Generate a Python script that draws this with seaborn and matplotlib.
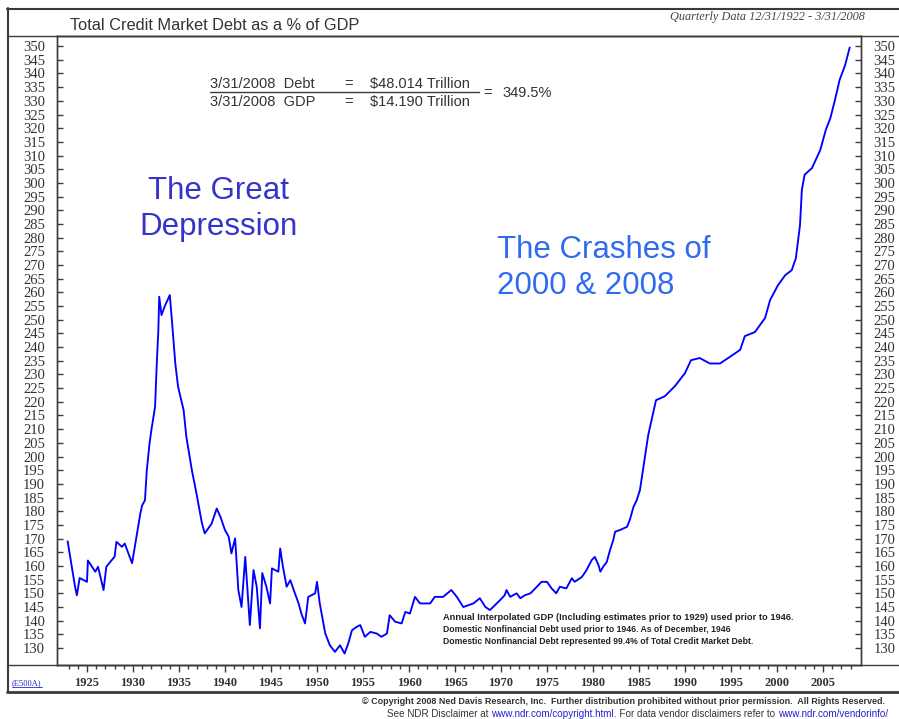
import numpy as np
import pandas as pd
import matplotlib
matplotlib.use("Agg")
import matplotlib.pyplot as plt
import seaborn as sns
from matplotlib.lines import Line2D

# ---------------- data ----------------
years = [1922.9, 1923.7, 1923.9, 1924.2, 1925.0, 1925.1, 1925.9, 1926.2, 1926.8, 1927.1,
         1928.0, 1928.2, 1928.8, 1929.1, 1929.9, 1930.2, 1930.8, 1931.0, 1931.3, 1931.5,
         1931.8, 1932.0, 1932.4, 1932.6, 1932.75, 1932.85, 1933.1, 1933.5, 1934.0, 1934.2,
         1934.6, 1934.9, 1935.5, 1935.8, 1936.4, 1936.9, 1937.5, 1937.8, 1938.55, 1939.1,
         1939.5, 1940.0, 1940.4, 1940.7, 1941.1, 1941.45, 1941.8, 1942.2, 1942.7, 1943.1,
         1943.45, 1943.8, 1944.05, 1944.5, 1944.9, 1945.1, 1945.8, 1946.0, 1946.3, 1946.7,
         1947.1, 1947.6, 1948.0, 1948.3, 1948.7, 1949.05, 1949.4, 1949.8, 1950.0, 1950.3,
         1950.9, 1951.4, 1951.95, 1952.5, 1953.0, 1953.4, 1953.8, 1954.3, 1954.7, 1955.2,
         1955.8, 1956.5, 1957.0, 1957.6, 1957.9, 1958.5, 1959.2, 1959.6, 1960.1, 1960.65,
         1961.2, 1962.3, 1962.8, 1963.7, 1964.6, 1965.2, 1965.9, 1967.0, 1967.7, 1968.3,
         1968.8, 1969.35, 1969.9, 1970.4, 1970.6, 1971.0, 1971.7, 1972.1, 1972.6, 1973.2,
         1973.9, 1974.4, 1975.0, 1975.5, 1976.0, 1976.4, 1977.1, 1977.7, 1978.0, 1978.8,
         1979.3, 1979.85, 1980.2, 1980.6, 1980.8, 1981.1, 1981.5, 1981.85, 1982.2, 1982.4,
         1982.9, 1983.7, 1984.0, 1984.4, 1984.75, 1985.1, 1986.0, 1986.85, 1987.8, 1988.9,
         1990.0, 1990.65, 1991.6, 1992.7, 1993.8, 1995.0, 1996.0, 1996.5, 1997.6, 1998.7,
         1999.25, 2000.1, 2000.9, 2001.6, 2002.05, 2002.5, 2002.7, 2003.0, 2003.8, 2004.7,
         2005.3, 2005.8, 2006.3, 2006.8, 2007.4, 2007.9]
values = [169.0, 152.4, 149.3, 155.6, 154.2, 162.0, 157.9, 159.7, 151.2, 159.7,
          163.4, 168.8, 167.0, 168.2, 161.0, 167.0, 179.2, 182.2, 184.0, 195.0,
          204.8, 209.7, 218.2, 235.2, 245.6, 258.4, 251.7, 255.3, 259.0, 251.0,
          234.0, 225.5, 217.0, 207.2, 195.0, 186.5, 175.5, 171.9, 175.5, 181.0,
          178.0, 173.1, 170.7, 164.6, 170.1, 151.2, 145.0, 163.3, 138.4, 158.5,
          152.4, 137.2, 157.4, 152.4, 146.3, 159.1, 157.9, 166.4, 159.7, 152.4,
          154.8, 150.0, 146.3, 142.6, 139.0, 148.7, 149.3, 150.0, 154.2, 146.3,
          135.3, 131.0, 128.6, 131.0, 128.0, 131.7, 136.5, 137.7, 138.4, 134.1,
          135.9, 135.3, 134.1, 135.3, 142.0, 139.6, 139.0, 143.2, 142.6, 148.7,
          146.3, 146.3, 148.7, 148.7, 151.2, 148.7, 145.0, 146.3, 148.2, 145.0,
          143.9, 145.7, 147.5, 149.3, 151.2, 148.7, 150.0, 148.2, 149.3, 150.0,
          152.4, 154.2, 154.2, 151.8, 150.0, 152.4, 151.8, 155.5, 154.2, 156.0,
          158.5, 162.1, 163.3, 160.3, 157.9, 159.7, 161.5, 165.8, 169.4, 172.5,
          173.1, 174.3, 176.8, 181.6, 184.0, 187.7, 207.8, 220.6, 222.0, 225.7,
          230.5, 235.2, 236.0, 234.0, 234.0, 236.7, 239.0, 244.0, 245.5, 250.6,
          257.2, 262.6, 266.3, 268.1, 272.5, 284.6, 297.4, 303.0, 305.4, 312.0,
          319.3, 323.7, 330.3, 337.6, 343.0, 349.5]
y_ticks = list(range(130, 351, 5))
x_ticks = [1925, 1930, 1935, 1940, 1945, 1950, 1955, 1960, 1965, 1970,
           1975, 1980, 1985, 1990, 1995, 2000, 2005]
x_minor = list(range(1923, 2009))

title = "Total Credit Market Debt as a % of GDP"
subtitle = "Quarterly Data 12/31/1922 - 3/31/2008"
ann1 = "The Great\nDepression"
ann2 = "The Crashes of\n2000 & 2008"
notes = ["Annual Interpolated GDP (Including estimates prior to 1929) used prior to 1946.",
         "Domestic Nonfinancial Debt used prior to 1946. As of December, 1946",
         "Domestic Nonfinancial Debt represented 99.4% of Total Credit Market Debt."]

# ---------------- figure ----------------
sns.set_theme(style="white")
plt.rcParams['font.family'] = ['Liberation Sans', 'DejaVu Sans']

W, H = 899, 719
fig = plt.figure(figsize=(W / 100, H / 100), dpi=100)
fig.patch.set_facecolor("white")


def fx(px):
    return px / W


def fy(py):
    return 1 - py / H


FR = "#3a3a3a"

ax = fig.add_axes([fx(57), fy(665), fx(861) - fx(57), fy(36) - fy(665)])
df = pd.DataFrame({"Year": years, "Pct": values})
sns.lineplot(data=df, x="Year", y="Pct", ax=ax, color="#0000FF", lw=1.35,
             sort=False, estimator=None)
ax.set_xlim(1921.74, 2009.13)
ax.set_ylim(123.8, 353.7)
ax.set_xlabel("")
ax.set_ylabel("")

for s in ax.spines.values():
    s.set_color(FR)
    s.set_linewidth(1.0)

ynum_font = ['Liberation Serif', 'DejaVu Serif']
ax.set_yticks(y_ticks)
ax.set_yticklabels([str(v) for v in y_ticks], fontfamily=ynum_font, fontsize=10.5, color="#333333")
ax.tick_params(axis="y", direction="in", length=4, width=1, color=FR, pad=8.5, left=True)

ax.set_xticks(x_ticks)
ax.set_xticklabels([str(v) for v in x_ticks],
                   fontfamily=['Liberation Serif', 'DejaVu Serif'], fontsize=9,
                   fontweight="bold", color="#333333")
ax.set_xticks(x_minor, minor=True)
ax.tick_params(axis="x", which="major", direction="out", length=5, width=1, color=FR, pad=4, bottom=True)
ax.tick_params(axis="x", which="minor", direction="out", length=3, width=1, color=FR, bottom=True)

ax2 = ax.twinx()
ax2.set_ylim(ax.get_ylim())
ax2.set_yticks(y_ticks)
ax2.set_yticklabels([str(v) for v in y_ticks], fontfamily=ynum_font, fontsize=10.5, color="#333333")
ax2.tick_params(axis="y", direction="in", length=4, width=1, color=FR, pad=9, right=True)
for s in ax2.spines.values():
    s.set_color(FR)
    s.set_linewidth(1.0)
ax2.grid(False)
ax.grid(False)

# ---------------- frame lines ----------------
def hline(py, x0, x1, lw=1.0):
    fig.add_artist(Line2D([fx(x0), fx(x1)], [fy(py), fy(py)], color=FR, lw=lw))


def vline(px, y0, y1, lw=1.0):
    fig.add_artist(Line2D([fx(px), fx(px)], [fy(y0), fy(y1)], color=FR, lw=lw))


hline(8.5, 7, 899, 1.5)
hline(36, 7, 899, 1.0)
hline(665, 7, 899, 1.0)
hline(692, 7, 899, 2.0)
vline(7.5, 8, 692, 1.5)

# ---------------- texts ----------------
fig.text(fx(70), fy(30), title, fontsize=11.8, color="#333333", ha="left", va="baseline")
fig.text(fx(865), fy(20), subtitle, fontsize=8.8, style="italic",
         fontfamily=['Liberation Serif', 'DejaVu Serif'], color="#444444",
         ha="right", va="baseline")

fig.text(fx(218), fy(209), ann1, fontsize=22.5, color="#3434C8", ha="center",
         va="center", multialignment="center", linespacing=1.24)
fig.text(fx(497), fy(268), ann2, fontsize=22.5, color="#2F6BEF", ha="left",
         va="center", multialignment="left", linespacing=1.24)

fc = "#333333"
fs_f = 10.5
fig.text(fx(210), fy(84), "3/31/2008  Debt", fontsize=fs_f, color=fc, va="center")
fig.text(fx(344), fy(84), "=", fontsize=fs_f, color=fc, va="center")
fig.text(fx(370), fy(84), "$48.014 Trillion", fontsize=fs_f, color=fc, va="center")
fig.text(fx(210), fy(102), "3/31/2008  GDP", fontsize=fs_f, color=fc, va="center")
fig.text(fx(344), fy(102), "=", fontsize=fs_f, color=fc, va="center")
fig.text(fx(370), fy(102), "$14.190 Trillion", fontsize=fs_f, color=fc, va="center")
hline(92, 210, 479, 1.0)
fig.text(fx(483), fy(93), "=", fontsize=fs_f, color=fc, va="center")
fig.text(fx(502), fy(93), "349.5%", fontsize=fs_f, color=fc, va="center")

fig.text(fx(443), fy(617), notes[0], fontsize=6.7, fontweight="bold",
         color="#222222", va="center")
fig.text(fx(443), fy(630), notes[1], fontsize=6.2, fontweight="bold", color="#222222", va="center")
fig.text(fx(443), fy(642), notes[2], fontsize=6.2, fontweight="bold", color="#222222", va="center")

link_col = "#2222CC"
t_e = fig.text(fx(12), fy(683), "(E500A)", fontsize=6, color=link_col, va="center",
               fontfamily=['Liberation Serif', 'DejaVu Serif'])

fig.text(fx(362), fy(701),
         "\u00a9 Copyright 2008 Ned Davis Research, Inc.  Further distribution prohibited without prior permission.  All Rights Reserved.",
         fontsize=6.5, fontweight="bold", color="#333333", va="center")

parts = [("See NDR Disclaimer at ", "#333333", False),
         ("www.ndr.com/copyright.html", link_col, True),
         (". For data vendor disclaimers refer to ", "#333333", False),
         ("www.ndr.com/vendorinfo/", link_col, True)]

fig.canvas.draw()
renderer = fig.canvas.get_renderer()
x_cur = 387
links = [t_e]
for txt, col, is_link in parts:
    t = fig.text(fx(x_cur), fy(714), txt, fontsize=7.1, color=col, va="center")
    bb = t.get_window_extent(renderer=renderer)
    x_cur += bb.width
    if is_link:
        links.append(t)

for t in links:
    bb = t.get_window_extent(renderer=renderer)
    x0, x1 = bb.x0 / W, bb.x1 / W
    yb = (bb.y0 + 0.5) / H
    fig.add_artist(Line2D([x0, x1], [yb, yb], color=link_col, lw=0.6))

fig.savefig("out.png", dpi=100, facecolor="white")
